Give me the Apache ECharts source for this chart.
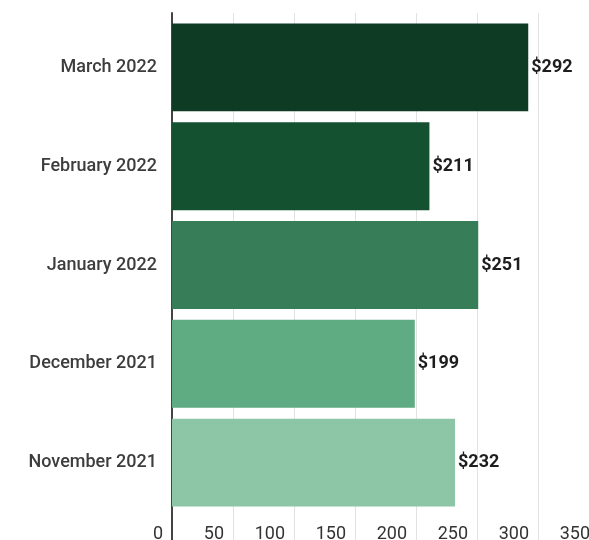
<!DOCTYPE html>
<html>
<head>
<meta charset="utf-8">
<script src="https://cdn.jsdelivr.net/npm/echarts@6/dist/echarts.min.js"></script>
<style>
  html, body { margin: 0; padding: 0; background: #ffffff; }
  #chart { width: 589px; height: 540px; }
</style>
</head>
<body>
<div id="chart"></div>
<script>
// Monthly values, listed oldest first (drawn bottom to top)
const months = ['November 2021', 'December 2021', 'January 2022', 'February 2022', 'March 2022'];
const amounts = [232, 199, 251, 211, 292];
const barColors = ['#8dc5a7', '#5fab82', '#367d58', '#135130', '#0e3b23'];

// Value axis range and ticks
const axisMin = 0;
const axisMax = 350;
const axisStep = 50;

const FONT = 'Roboto, "Noto Sans", sans-serif';
const chart = echarts.init(document.getElementById('chart'), null, { renderer: 'canvas' });

chart.setOption({
  backgroundColor: '#ffffff',
  animation: false,
  grid: [
    // bars
    { left: 172, right: -10, top: 18, bottom: 28, containLabel: false, outerBoundsMode: 'none' },
    // full-height frame carrying gridlines, the vertical axis line and tick labels
    { left: 172, right: -10, top: 13, bottom: 0, containLabel: false, outerBoundsMode: 'none' }
  ],
  xAxis: [
    {
      gridIndex: 0, type: 'value', min: axisMin, max: axisMax, interval: axisStep,
      show: false
    },
    {
      gridIndex: 1, type: 'value', min: axisMin, max: axisMax, interval: axisStep,
      axisLine: { show: false },
      axisTick: { show: false },
      splitLine: { show: true, lineStyle: { color: '#e2e2e2', width: 1 } },
      axisLabel: {
        inside: true,
        margin: 6,
        align: 'right',
        verticalAlign: 'middle',
        padding: [0, 9, 0, 0],
        color: '#333333',
        fontFamily: FONT,
        fontSize: 18,
        showMinLabel: true,
        showMaxLabel: true
      }
    }
  ],
  yAxis: [
    {
      gridIndex: 0, type: 'category', data: months,
      axisLine: { show: false },
      axisTick: { show: false },
      splitLine: { show: false },
      axisLabel: {
        margin: 15,
        color: '#3d3d3d',
        fontFamily: FONT,
        fontSize: 18,
        fontWeight: 500
      }
    },
    {
      gridIndex: 1, type: 'value', min: 0, max: 1,
      axisLine: { show: true, lineStyle: { color: '#444444', width: 2 } },
      axisTick: { show: false },
      axisLabel: { show: false },
      splitLine: { show: false }
    }
  ],
  series: [
    {
      type: 'bar',
      xAxisIndex: 0,
      yAxisIndex: 0,
      data: amounts,
      barCategoryGap: '11%',
      itemStyle: {
        color: (p) => barColors[p.dataIndex]
      },
      label: {
        show: true,
        position: 'right',
        distance: 3,
        formatter: (p) => '$' + p.value,
        color: '#1e1e1e',
        fontFamily: FONT,
        fontSize: 18,
        fontWeight: 'bold'
      }
    }
  ]
});
</script>
</body>
</html>
